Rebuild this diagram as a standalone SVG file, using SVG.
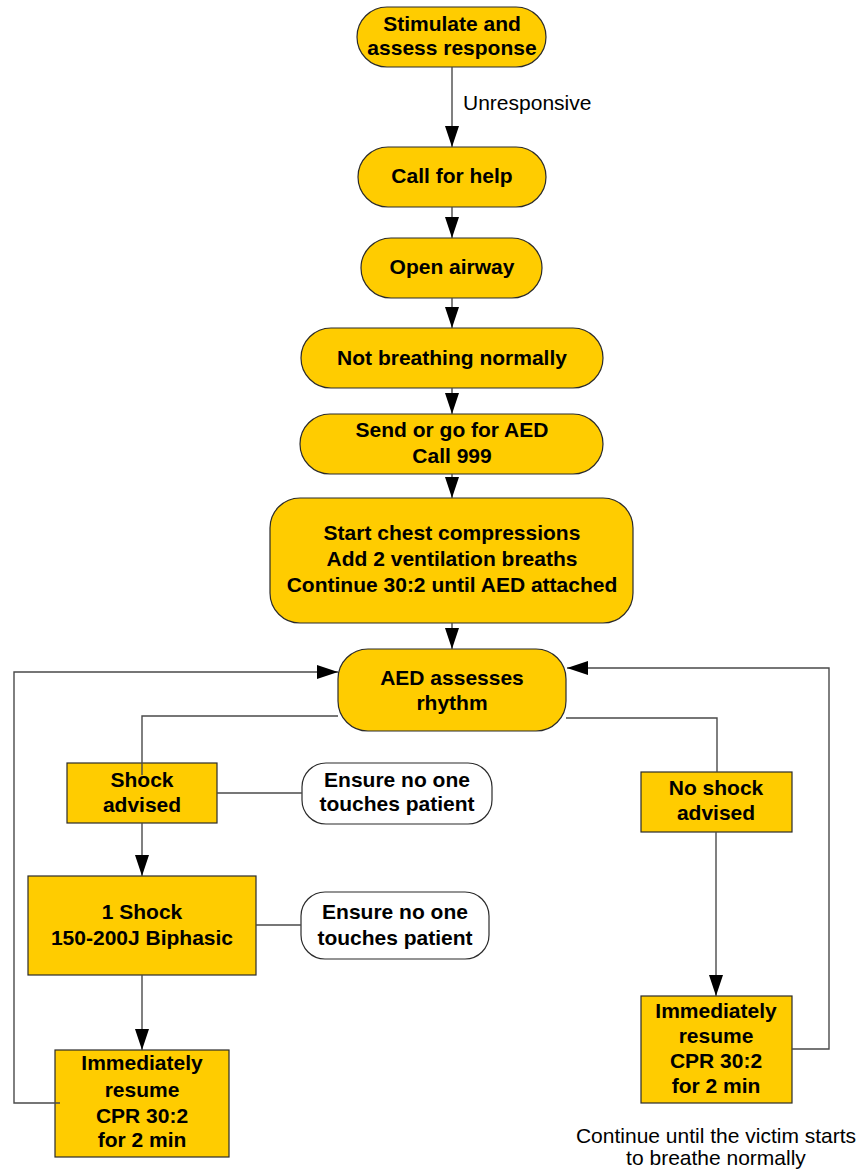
<svg xmlns="http://www.w3.org/2000/svg" width="862" height="1171" viewBox="0 0 862 1171">
<style>
.n{fill:#FFCC00;stroke:#2b2b2b;stroke-width:1.2}
.w{fill:#FFFFFF;stroke:#2b2b2b;stroke-width:1.2}
.t{font-family:"Liberation Sans",Arial,sans-serif;font-weight:bold;font-size:21px;fill:#000;text-anchor:middle}
.r{font-family:"Liberation Sans",Arial,sans-serif;font-size:21px;fill:#000}
.c{fill:none;stroke:#4a4a4a;stroke-width:1.4}
</style>
<defs>
<marker id="ah" markerUnits="userSpaceOnUse" markerWidth="21" markerHeight="14" refX="21" refY="7" orient="auto">
<path d="M0,0 L21,7 L0,14 z" fill="#000"/>
</marker>
</defs>
<rect width="862" height="1171" fill="#fff"/>
<g id="n1"><rect class="n" x="357" y="7" width="189" height="60" rx="30"/><text class="t" x="452" y="31">Stimulate and</text><text class="t" x="452" y="55">assess response</text></g>
<g id="n2"><rect class="n" x="358" y="147" width="188" height="60" rx="30"/><text class="t" x="452" y="183">Call for help</text></g>
<g id="n3"><rect class="n" x="361" y="238" width="181" height="60" rx="30"/><text class="t" x="452" y="274">Open airway</text></g>
<g id="n4"><rect class="n" x="301" y="328" width="302" height="60" rx="30"/><text class="t" x="452" y="365">Not breathing normally</text></g>
<g id="n5"><rect class="n" x="300" y="414" width="303" height="60" rx="30"/><text class="t" x="452" y="437">Send or go for AED</text><text class="t" x="452" y="463">Call 999</text></g>
<g id="n6"><rect class="n" x="270" y="498" width="363" height="125" rx="30"/><text class="t" x="452" y="540">Start chest compressions</text><text class="t" x="452" y="566">Add 2 ventilation breaths</text><text class="t" x="452" y="592">Continue 30:2 until AED attached</text></g>
<g id="n7"><rect class="n" x="338" y="649" width="228" height="82" rx="30"/><text class="t" x="452" y="685">AED assesses</text><text class="t" x="452" y="710">rhythm</text></g>
<g id="n8"><rect class="n" x="67" y="763" width="150" height="60"/><text class="t" x="142" y="787">Shock</text><text class="t" x="142" y="812">advised</text></g>
<g id="n9"><rect class="w" x="302" y="763" width="190" height="61" rx="24"/><text class="t" x="397" y="787">Ensure no one</text><text class="t" x="397" y="811">touches patient</text></g>
<g id="n10"><rect class="n" x="641" y="772" width="151" height="60"/><text class="t" x="716" y="795">No shock</text><text class="t" x="716" y="820">advised</text></g>
<g id="n11"><rect class="n" x="28" y="876" width="228" height="99"/><text class="t" x="142" y="919">1 Shock</text><text class="t" x="142" y="945">150-200J Biphasic</text></g>
<g id="n12"><rect class="w" x="301" y="892" width="188" height="67" rx="24"/><text class="t" x="395" y="919">Ensure no one</text><text class="t" x="395" y="945">touches patient</text></g>
<g id="n13"><rect class="n" x="55" y="1050" width="174" height="107"/><text class="t" x="142" y="1070">Immediately</text><text class="t" x="142" y="1097">resume</text><text class="t" x="142" y="1123">CPR 30:2</text><text class="t" x="142" y="1147">for 2 min</text></g>
<g id="n14"><rect class="n" x="641" y="996" width="151" height="107"/><text class="t" x="716" y="1018">Immediately</text><text class="t" x="716" y="1043">resume</text><text class="t" x="716" y="1068">CPR 30:2</text><text class="t" x="716" y="1093">for 2 min</text></g>
<g id="note"><text class="r" x="716" y="1143" text-anchor="middle">Continue until the victim starts</text><text class="r" x="716" y="1165" text-anchor="middle">to breathe normally</text></g>
<g id="connectors">
<path class="c" d="M452,67 V147" marker-end="url(#ah)"/>
<text class="r" x="463" y="110">Unresponsive</text>
<path class="c" d="M452,207 V238" marker-end="url(#ah)"/>
<path class="c" d="M452,298 V328" marker-end="url(#ah)"/>
<path class="c" d="M452,388 V414" marker-end="url(#ah)"/>
<path class="c" d="M452,474 V498" marker-end="url(#ah)"/>
<path class="c" d="M452,623 V649" marker-end="url(#ah)"/>
<path class="c" d="M60,1103 H14 V672 H338" marker-end="url(#ah)"/>
<path class="c" d="M792,1049 H829 V668 H567" marker-end="url(#ah)"/>
<path class="c" d="M338,716 H142 V775"/>
<path class="c" d="M217,793 H302"/>
<path class="c" d="M566,718 H717 V772"/>
<path class="c" d="M142,823 V876" marker-end="url(#ah)"/>
<path class="c" d="M142,975 V1050" marker-end="url(#ah)"/>
<path class="c" d="M256,925 H301"/>
<path class="c" d="M716,832 V996" marker-end="url(#ah)"/>
</g>
</svg>
